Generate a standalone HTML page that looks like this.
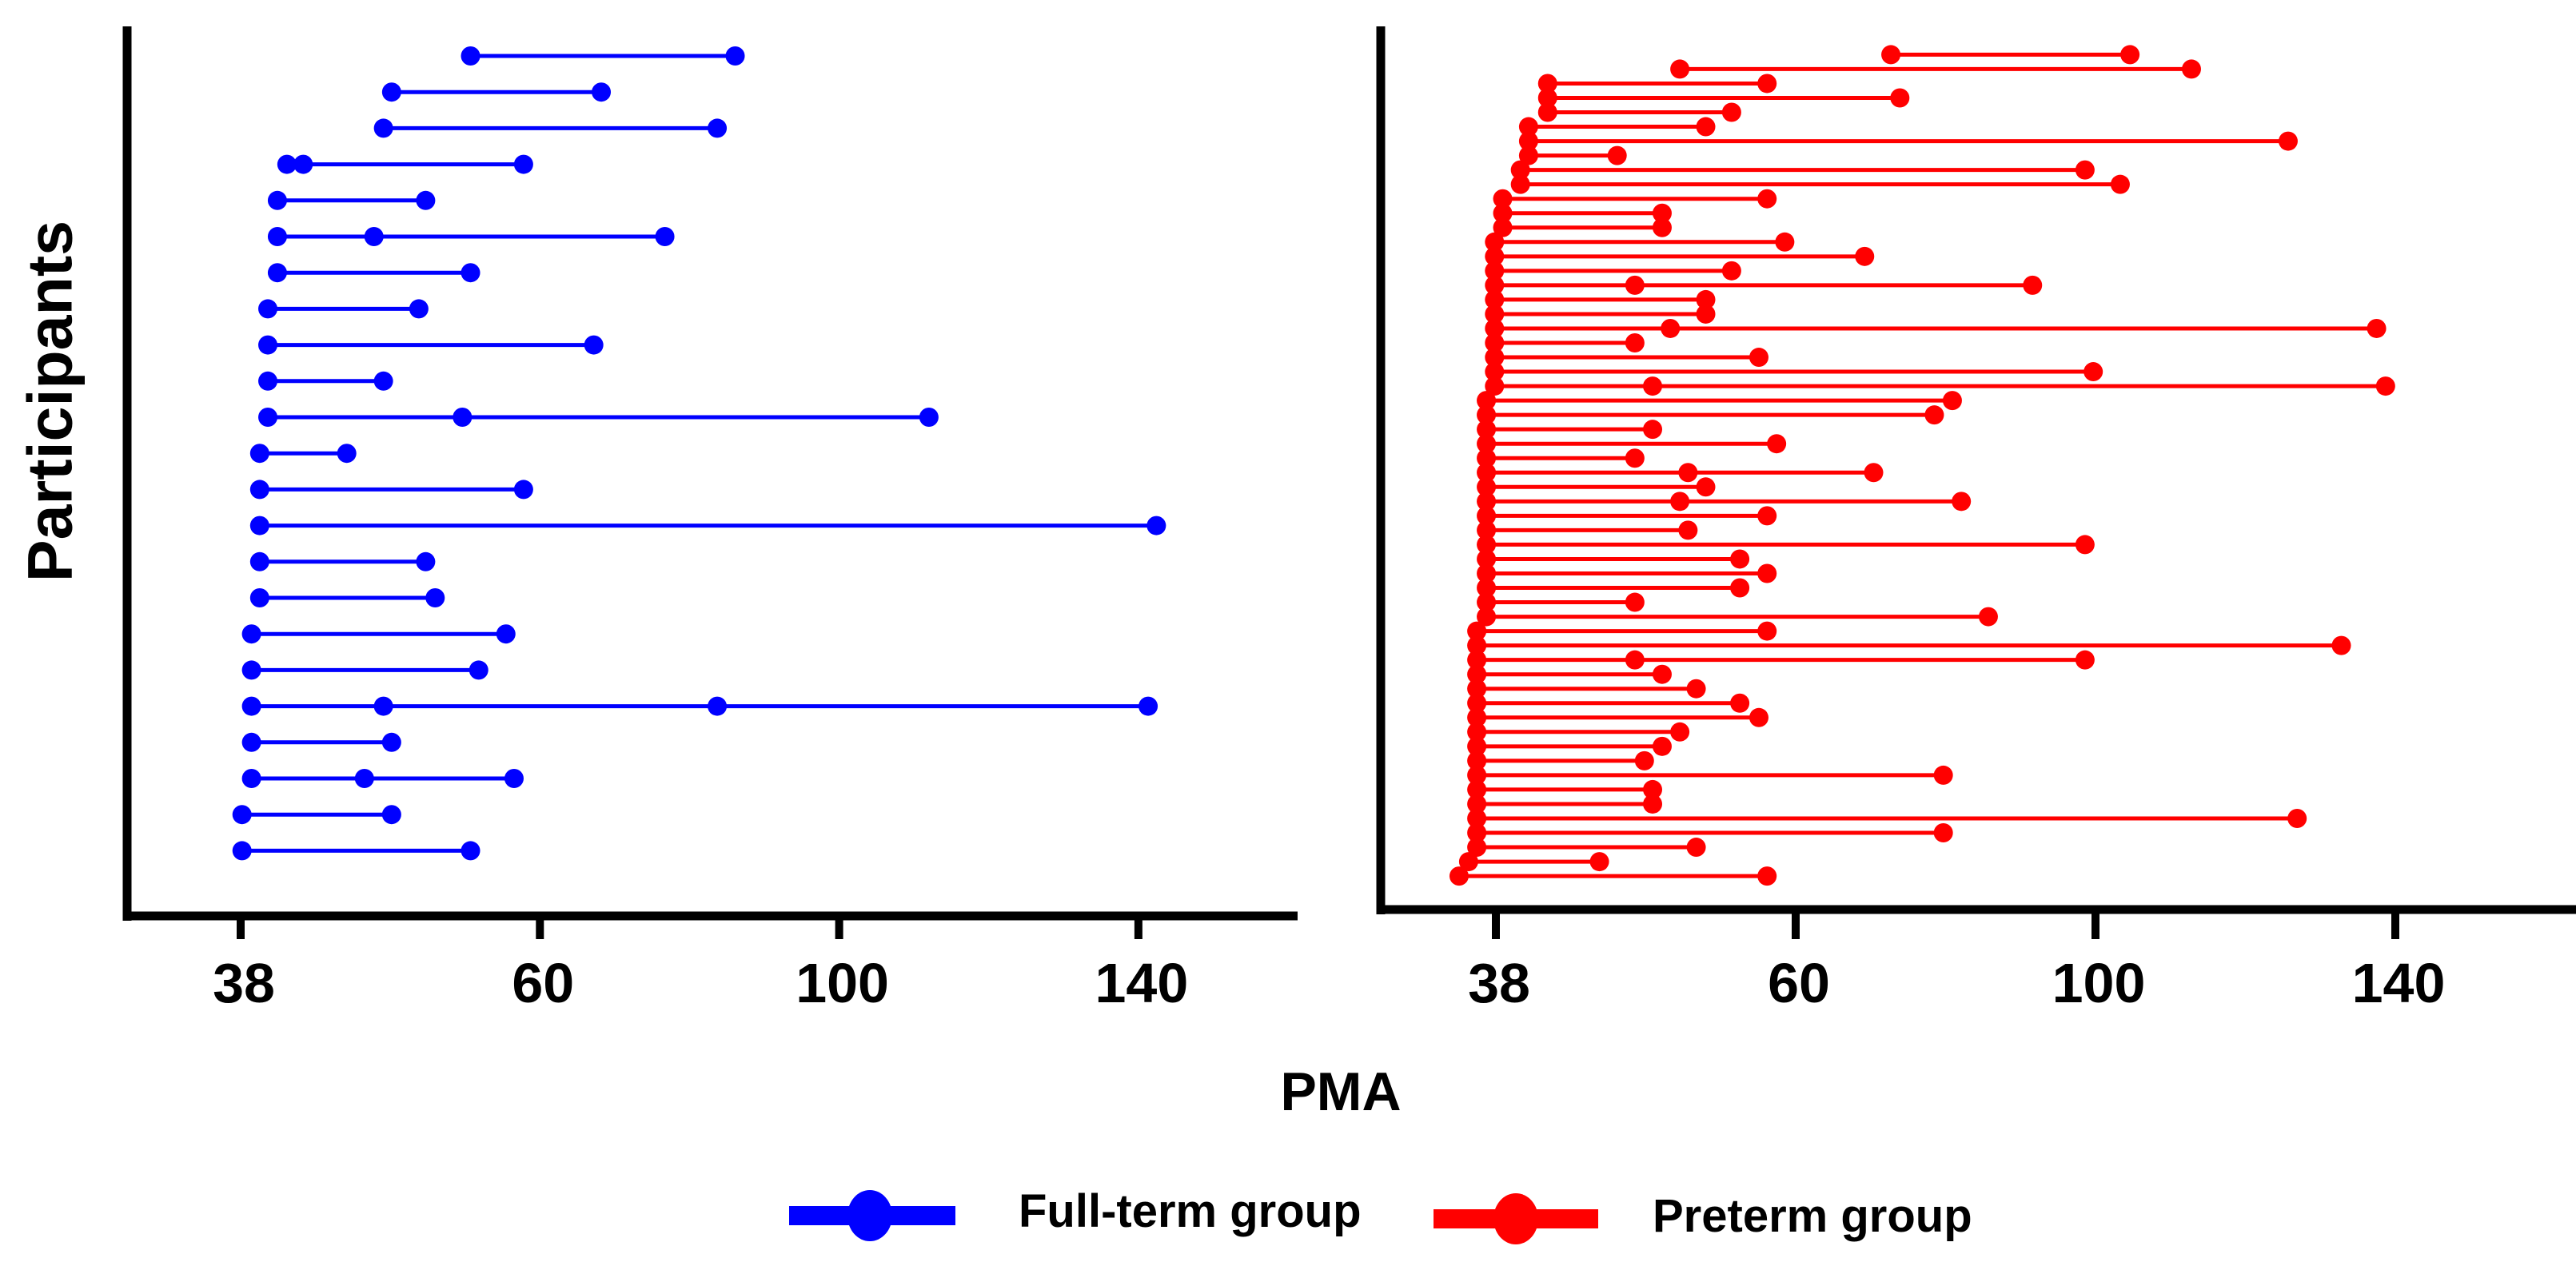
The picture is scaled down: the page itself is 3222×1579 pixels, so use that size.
<!DOCTYPE html>
<html><head><meta charset="utf-8"><style>
html,body{margin:0;padding:0;background:#fff;}
svg{display:block;font-family:"Liberation Sans",Arial,sans-serif;font-weight:bold;}
</style></head><body>
<svg id="chart" width="3222" height="1579" viewBox="0 0 3222 1579" xmlns="http://www.w3.org/2000/svg">
<g id="left"></g>
<g id="right"></g>
<text x="62" y="502" font-size="79" text-anchor="middle" dominant-baseline="central" transform="rotate(-90 62 502)">Participants</text>
<text x="1677" y="1389" font-size="68" text-anchor="middle">PMA</text>
<g>
<g>
<line x1="987" y1="1521" x2="1195" y2="1521" stroke="#0000ff" stroke-width="24"/>
<ellipse cx="1088" cy="1521" rx="28" ry="32" fill="#0000ff"/>
<text x="1274" y="1535" font-size="58">Full-term group</text>
</g>
<g>
<line x1="1793" y1="1525" x2="1999" y2="1525" stroke="#ff0000" stroke-width="24"/>
<ellipse cx="1896" cy="1525" rx="28" ry="32" fill="#ff0000"/>
<text x="2067" y="1541" font-size="58">Preterm group</text>
</g>
</g>
</svg>
<script>
const tickValues = [38, 60, 100, 140];
const fullTermRows = [
 [54.9, 86.1],[49.1, 68.2],[48.5, 83.7],[41.4, 42.6, 58.8],[40.7, 51.6],
 [40.7, 47.8, 76.7],[40.7, 54.9],[40.0, 51.1],[40.0, 67.2],[40.0, 48.5],
 [40.0, 54.3, 112.0],[39.4, 45.8],[39.4, 58.8],[39.4, 142.4],[39.4, 51.6],
 [39.4, 52.3],[38.8, 57.5],[38.8, 55.5],[38.8, 48.5, 83.7, 141.3],[38.8, 49.1],
 [38.8, 47.1, 58.1],[38.1, 49.1],[38.1, 54.9]
];
const pretermRows = [
 [72.7, 104.6],[51.5, 112.8],[41.8, 57.9],[41.8, 73.9],[41.8, 55.3],
 [40.4, 53.4],[40.4, 125.7],[40.4, 46.9],[39.8, 98.6],[39.8, 103.3],
 [38.5, 57.9],[38.5, 50.2],[38.5, 50.2],[37.9, 59.2],[37.9, 69.2],
 [37.9, 55.3],[37.9, 48.2, 91.6],[37.9, 53.4],[37.9, 53.4],[37.9, 50.8, 137.5],
 [37.9, 48.2],[37.9, 57.3],[37.9, 99.7],[37.9, 49.5, 138.7],[37.3, 80.9],
 [37.3, 78.5],[37.3, 49.5],[37.3, 58.6],[37.3, 48.2],[37.3, 52.1, 70.4],
 [37.3, 53.4],[37.3, 51.5, 82.1],[37.3, 57.9],[37.3, 52.1],[37.3, 98.6],
 [37.3, 55.9],[37.3, 57.9],[37.3, 55.9],[37.3, 48.2],[37.3, 85.7],
 [36.6, 57.9],[36.6, 132.8],[36.6, 48.2, 98.6],[36.6, 50.2],[36.6, 52.7],
 [36.6, 55.9],[36.6, 57.3],[36.6, 51.5],[36.6, 50.2],[36.6, 48.9],
 [36.6, 79.7],[36.6, 49.5],[36.6, 49.5],[36.6, 126.9],[36.6, 79.7],
 [36.6, 52.7],[36.0, 45.6],[35.3, 57.9]
];
const NS = 'http://www.w3.org/2000/svg';
function makeX(firstTickPx, step) {
  return function (v) {
    const t = tickValues;
    let i = 0;
    if (v <= t[0]) i = 0;
    else if (v >= t[t.length - 1]) i = t.length - 2;
    else { while (!(v >= t[i] && v <= t[i + 1])) i++; }
    return firstTickPx + step * (i + (v - t[i]) / (t[i + 1] - t[i]));
  };
}
function mk(tag, attrs, parent) {
  const el = document.createElementNS(NS, tag);
  for (const k in attrs) el.setAttribute(k, attrs[k]);
  parent.appendChild(el);
  return el;
}
function panel(g, rows, color, cfg) {
  const x = makeX(cfg.tick0, cfg.step);
  // axes
  const ya = mk('line', {x1: cfg.axisX, y1: 33, x2: cfg.axisX, y2: cfg.axisY + 6, stroke: '#000', 'stroke-width': 11}, g);
  
  
  const xa = mk('line', {x1: cfg.axisX - 5, y1: cfg.axisY, x2: cfg.axisEnd, y2: cfg.axisY, stroke: '#000', 'stroke-width': 11}, g);
  
  
  tickValues.forEach(function (tv) {
    const px = x(tv);
    const tk = mk('line', {x1: px, y1: cfg.axisY, x2: px, y2: 1175, stroke: '#000', 'stroke-width': 10}, g);
    
    
    const lb = mk('text', {x: px + 4, y: 1254, 'font-size': 70, 'text-anchor': 'middle'}, g);
    lb.textContent = String(tv);
    
    
  });
  rows.forEach(function (vals, r) {
    const y = cfg.row0 + r * cfg.rowStep;
    const rg = mk('g', {}, g);
    
    
    const ln = mk('line', {x1: x(vals[0]), y1: y, x2: x(vals[vals.length - 1]), y2: y, stroke: color, 'stroke-width': 5}, rg);
    
    
    vals.forEach(function (v) {
      const c = mk('ellipse', {cx: x(v), cy: y, rx: 12, ry: 12, fill: color}, rg);
      
      
    });
  });
}
panel(document.getElementById('left'), fullTermRows, '#0000ff',
  {tick0: 301, step: 374.3, axisX: 159, axisY: 1146, axisEnd: 1623, row0: 70, rowStep: 45.2});
panel(document.getElementById('right'), pretermRows, '#ff0000',
  {tick0: 1871, step: 375, axisX: 1727, axisY: 1138, axisEnd: 3222, row0: 68.4, rowStep: 18.03});
</script>
</body></html>
